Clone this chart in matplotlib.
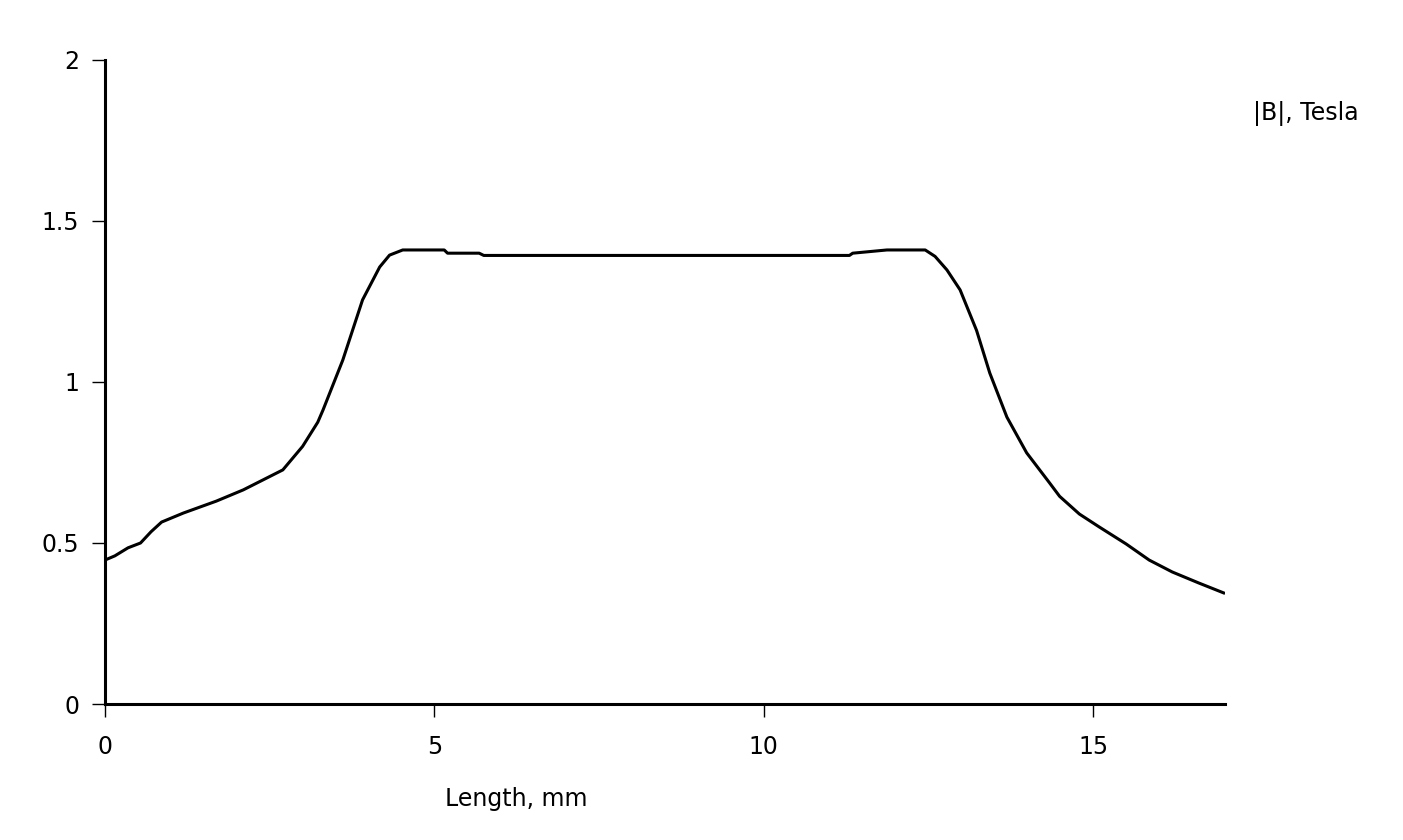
import matplotlib
matplotlib.use("Agg")
import matplotlib.pyplot as plt

# field magnitude along the length
length_mm = [0.0, 0.15, 0.35, 0.54, 0.7, 0.86, 1.19, 1.69, 2.1, 2.4, 2.7, 3.0,
             3.23, 3.31, 3.61, 3.91, 4.17, 4.32, 4.52, 5.15, 5.2, 5.68, 5.75,
             8.5, 11.3, 11.35, 11.87, 12.45, 12.6, 12.78, 12.98, 13.23, 13.43,
             13.69, 13.99, 14.34, 14.49, 14.79, 15.09, 15.5, 15.85, 16.2, 16.6,
             16.98]
b_tesla = [0.447, 0.46, 0.485, 0.50, 0.535, 0.565, 0.593, 0.63, 0.665, 0.696,
           0.727, 0.80, 0.875, 0.913, 1.068, 1.255, 1.357, 1.394, 1.41, 1.41,
           1.40, 1.40, 1.393, 1.393, 1.393, 1.40, 1.41, 1.41, 1.39, 1.348,
           1.286, 1.16, 1.028, 0.891, 0.78, 0.686, 0.645, 0.59, 0.55, 0.497,
           0.447, 0.41, 0.376, 0.345]

x_ticks = [0, 5, 10, 15]
y_ticks = [0, 0.5, 1, 1.5, 2]
y_tick_labels = ["0", "0.5", "1", "1.5", "2"]

plt.rcParams["font.family"] = ["DejaVu Sans"]

fig = plt.figure(figsize=(14.03, 8.40), dpi=100)
ax = fig.add_axes([0.0748, 0.1619, 0.7983, 0.7667])

ax.plot(length_mm, b_tesla, color="black", lw=2.2)

ax.set_xlim(0, 17)
ax.set_ylim(0, 2)
ax.set_xticks(x_ticks)
ax.set_yticks(y_ticks)
ax.set_yticklabels(y_tick_labels)

for side in ("top", "right"):
    ax.spines[side].set_visible(False)
for side in ("left", "bottom"):
    ax.spines[side].set_linewidth(2.2)

ax.tick_params(axis="both", direction="out", length=9.5, width=1, labelsize=17)
ax.tick_params(axis="y", pad=9)
ax.tick_params(axis="x", pad=13)

fig.text(0.368, 0.049, "Length, mm", fontsize=17, ha="center", va="center")
fig.text(0.893, 0.865, "|B|, Tesla", fontsize=17, ha="left", va="center")

fig.savefig("out.png", dpi=100)
